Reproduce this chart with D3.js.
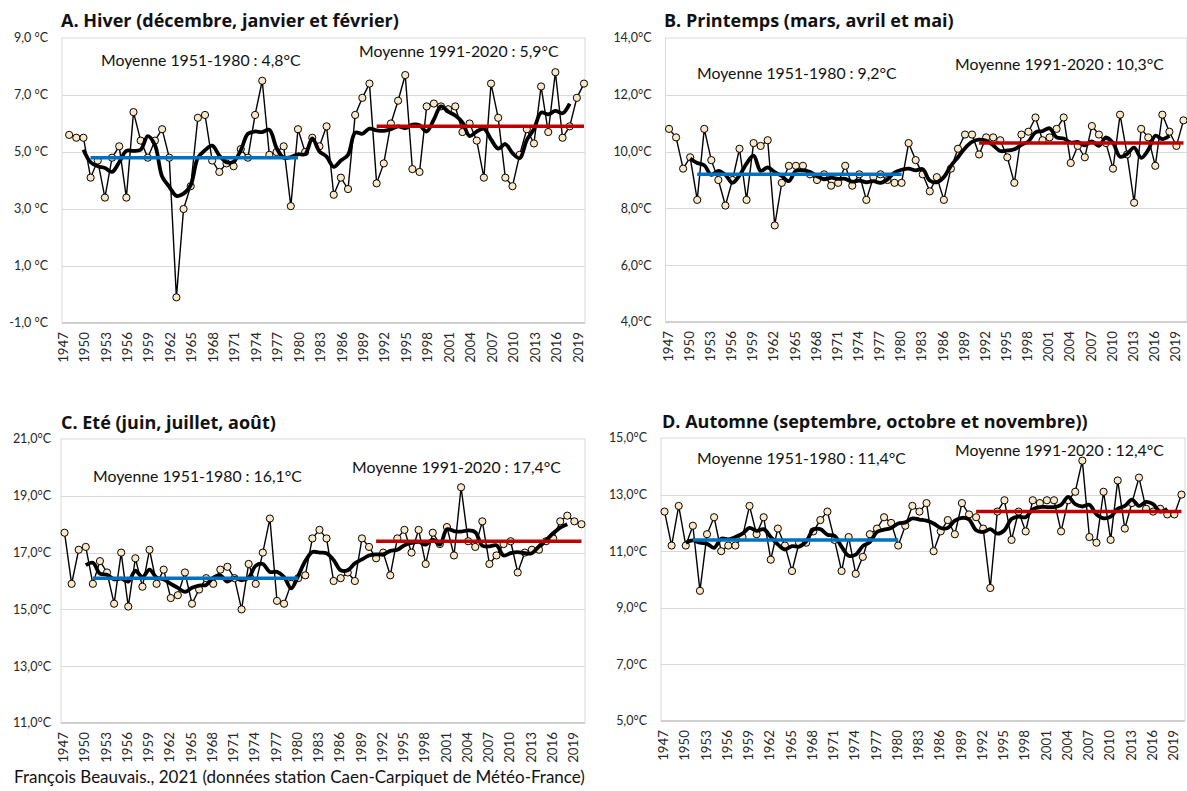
<!DOCTYPE html>
<html>
<head>
<meta charset="utf-8">
<script src="https://cdn.jsdelivr.net/npm/d3@7"></script>
<style>
  body { margin: 0; background: #ffffff; }
  svg { display: block; font-family: Lato, "Open Sans", sans-serif; }
</style>
</head>
<body>
<svg id="chart" width="1187" height="791"></svg>
<script>
// Category axis: years 1947–2020, labelled every third year
const years = d3.range(1947, 2021);
const tickYears = [1947, 1950, 1953, 1956, 1959, 1962, 1965, 1968, 1971, 1974, 1977, 1980,
  1983, 1986, 1989, 1992, 1995, 1998, 2001, 2004, 2007, 2010, 2013, 2016, 2019];

// Seasonal mean temperatures (°C), Caen-Carpiquet
// Winter series starts with the winter 1947-48 (labelled 1948)
const hiverYears = d3.range(1948, 2021);
const hiver = [
  5.6, 5.5, 5.5, 4.1, 4.7, 3.4, 4.8, 5.2, 3.4, 6.4,
  5.4, 4.8, 5.4, 5.8, 4.8, -0.1, 3.0, 3.8, 6.2, 6.3,
  4.7, 4.3, 4.6, 4.5, 5.1, 4.8, 6.3, 7.5, 4.9, 5.0,
  5.2, 3.1, 5.8, 5.0, 5.5, 5.2, 5.9, 3.5, 4.1, 3.7,
  6.3, 6.9, 7.4, 3.9, 4.6, 6.0, 6.8, 7.7, 4.4, 4.3,
  6.6, 6.7, 6.6, 6.5, 6.6, 5.7, 6.0, 5.4, 4.1, 7.4,
  6.2, 4.1, 3.8, 4.9, 5.8, 5.3, 7.3, 5.7, 7.8, 5.5,
  5.9, 6.9, 7.4];

const printemps = [
  10.8, 10.5, 9.4, 9.8, 8.3, 10.8, 9.7, 9.0, 8.1, 9.0,
  10.1, 8.3, 10.3, 10.2, 10.4, 7.4, 8.9, 9.5, 9.5, 9.5,
  9.2, 9.0, 9.2, 8.8, 8.9, 9.5, 8.8, 9.2, 8.3, 9.1,
  9.2, 9.0, 8.9, 8.9, 10.3, 9.7, 9.2, 8.6, 9.1, 8.3,
  9.4, 10.1, 10.6, 10.6, 9.9, 10.5, 10.5, 10.4, 9.8, 8.9,
  10.6, 10.7, 11.2, 10.4, 10.5, 10.8, 11.2, 9.6, 10.2, 9.8,
  10.9, 10.6, 10.3, 9.4, 11.3, 9.9, 8.2, 10.8, 10.5, 9.5,
  11.3, 10.7, 10.2, 11.1];

const ete = [
  17.7, 15.9, 17.1, 17.2, 15.9, 16.7, 16.3, 15.2, 17.0, 15.1,
  16.8, 15.8, 17.1, 15.9, 16.4, 15.4, 15.5, 16.3, 15.2, 15.7,
  16.1, 15.9, 16.4, 16.5, 16.1, 15.0, 16.6, 15.9, 17.0, 18.2,
  15.3, 15.2, 15.9, 16.1, 16.2, 17.5, 17.8, 17.5, 16.0, 16.1,
  16.3, 16.0, 17.5, 17.2, 16.8, 17.0, 16.2, 17.5, 17.8, 17.0,
  17.8, 16.6, 17.7, 17.3, 17.9, 16.9, 19.3, 17.4, 17.2, 18.1,
  16.6, 16.9, 17.3, 17.4, 16.3, 17.0, 17.1, 17.1, 17.4, 17.5,
  18.1, 18.3, 18.1, 18.0];

const automne = [
  12.4, 11.2, 12.6, 11.2, 11.9, 9.6, 11.6, 12.2, 11.0, 11.2,
  11.2, 11.5, 12.6, 11.6, 12.2, 10.7, 11.8, 11.2, 10.3, 11.3,
  11.3, 11.7, 12.1, 12.4, 11.4, 10.3, 11.5, 10.2, 10.8, 11.6,
  11.8, 12.2, 12.0, 11.2, 11.9, 12.6, 12.4, 12.7, 11.0, 11.7,
  12.1, 11.6, 12.7, 12.3, 12.2, 11.8, 9.7, 12.4, 12.8, 11.4,
  12.4, 11.7, 12.8, 12.7, 12.8, 12.8, 11.7, 12.8, 13.1, 14.2,
  11.5, 11.3, 13.1, 11.4, 13.5, 11.8, 12.7, 13.6, 12.5, 12.4,
  12.5, 12.3, 12.3, 13.0];

// Reference-period means (°C) for each season
const periodOld = [1951, 1980];
const periodNew = [1991, 2020];
const meanOld = { hiver: 4.8, printemps: 9.2, ete: 16.1, automne: 11.4 };
const meanNew = { hiver: 5.9, printemps: 10.3, ete: 17.4, automne: 12.4 };

// 5-year centred moving average shown from 1950 to 2018
const smoothSpan = [1950, 2018];

const svg = d3.select("#chart");

function comma(v) { return v.toFixed(1).replace(".", ","); }

function movingAverage(yrs, vals) {
  return d3.range(smoothSpan[0], smoothSpan[1] + 1).map(y => {
    const i = yrs.indexOf(y);
    return { year: y, v: d3.mean(vals.slice(i - 2, i + 3)) };
  });
}

function drawPanel(p) {
  const g = svg.append("g");
  const x = d3.scalePoint().domain(years).range([p.left, p.right]).padding(p.pad);
  const y = d3.scaleLinear().domain(p.yDomain).range([p.bottom, p.top]);
  const yTicks = d3.range(p.yDomain[0], p.yDomain[1] + 0.001, 2);
  const extra = p.pad === 0 ? 1 : 0;

  // plot area frame and horizontal grid
  g.append("rect")
    .attr("x", p.left).attr("y", p.top)
    .attr("width", p.right - p.left + extra).attr("height", p.bottom - p.top)
    .attr("fill", "none").attr("stroke", "#d9d9d9").attr("stroke-width", 1);
  g.selectAll(".grid").data(yTicks.slice(1, -1)).join("line")
    .attr("x1", p.left).attr("x2", p.right + extra)
    .attr("y1", d => Math.round(y(d)) + 0.5).attr("y2", d => Math.round(y(d)) + 0.5)
    .attr("stroke", "#d9d9d9").attr("stroke-width", 1);
  g.append("line")
    .attr("x1", p.left).attr("x2", p.right + extra)
    .attr("y1", p.bottom).attr("y2", p.bottom)
    .attr("stroke", "#d0d0d0").attr("stroke-width", 2);

  // y axis labels
  g.selectAll(".ylab").data(yTicks).join("text")
    .attr("x", p.left - p.yGap).attr("y", d => y(d)).attr("dy", "0.35em")
    .attr("text-anchor", "end").attr("font-size", 12.5).attr("fill", "#262626")
    .text(d => comma(d) + p.unit);

  // x axis labels (rotated)
  g.selectAll(".xlab").data(tickYears).join("text")
    .attr("transform", d => `translate(${x(d) + p.xShift},${p.bottom + 9}) rotate(-90)`)
    .attr("dy", "0.35em").attr("text-anchor", "end")
    .attr("font-size", 13.3).attr("fill", "#262626")
    .text(d => d);

  // title
  g.append("text").attr("x", p.titleX).attr("y", p.titleY)
    .attr("font-family", "'Open Sans', Lato, sans-serif")
    .attr("font-size", 18).attr("font-weight", "bold").attr("fill", "#111")
    .text(p.title);

  const pts = p.years.map((yr, i) => ({ year: yr, v: p.values[i] }));

  // yearly series
  g.append("path").datum(pts)
    .attr("fill", "none").attr("stroke", "#000").attr("stroke-width", 1.4)
    .attr("d", d3.line().x(d => x(d.year)).y(d => y(d.v)));
  g.selectAll(".pt").data(pts).join("circle")
    .attr("cx", d => x(d.year)).attr("cy", d => y(d.v)).attr("r", 3.6)
    .attr("fill", "#fbe9c6").attr("stroke", "#000").attr("stroke-width", 1);

  // smoothed curve
  g.append("path").datum(movingAverage(p.years, p.values))
    .attr("fill", "none").attr("stroke", "#000").attr("stroke-width", 3.8)
    .attr("stroke-linejoin", "round")
    .attr("d", d3.line().curve(d3.curveCatmullRom.alpha(0.5)).x(d => x(d.year)).y(d => y(d.v)));

  // period means
  [[periodOld, p.mOld, "#0070c0"], [periodNew, p.mNew, "#c00000"]].forEach(([per, m, col]) => {
    g.append("line")
      .attr("x1", x(per[0])).attr("x2", x(per[1]))
      .attr("y1", y(m)).attr("y2", y(m))
      .attr("stroke", col).attr("stroke-width", 3.5);
  });

  g.append("text").attr("x", p.lblOld[0]).attr("y", p.lblOld[1])
    .attr("font-size", 15.8).attr("fill", "#111")
    .text(`Moyenne ${periodOld[0]}-${periodOld[1]} : ${comma(p.mOld)}°C`);
  g.append("text").attr("x", p.lblNew[0]).attr("y", p.lblNew[1])
    .attr("font-size", 15.8).attr("fill", "#111")
    .text(`Moyenne ${periodNew[0]}-${periodNew[1]} : ${comma(p.mNew)}°C`);
}

drawPanel({
  title: "A. Hiver (décembre, janvier et février)", titleX: 61, titleY: 26.5,
  left: 62, right: 584, top: 38, bottom: 323, pad: 0, xShift: 1,
  yDomain: [-1, 9], unit: " °C", yGap: 14,
  years: hiverYears, values: hiver, mOld: meanOld.hiver, mNew: meanNew.hiver,
  lblOld: [101, 65.5], lblNew: [359, 57]
});
drawPanel({
  title: "B. Printemps (mars, avril et mai)", titleX: 664, titleY: 26.5,
  left: 665.5, right: 1187, top: 38, bottom: 322, pad: 0.5, xShift: -1,
  yDomain: [4, 14], unit: "°C", yGap: 14,
  years: years, values: printemps, mOld: meanOld.printemps, mNew: meanNew.printemps,
  lblOld: [697, 78.5], lblNew: [955, 70]
});
drawPanel({
  title: "C. Eté (juin, juillet, août)", titleX: 61, titleY: 428.5,
  left: 61, right: 585, top: 439, bottom: 723, pad: 0.5, xShift: -1,
  yDomain: [11, 21], unit: "°C", yGap: 10,
  years: years, values: ete, mOld: meanOld.ete, mNew: meanNew.ete,
  lblOld: [93, 481.5], lblNew: [352, 473]
});
drawPanel({
  title: "D. Automne (septembre, octobre et novembre))", titleX: 662, titleY: 427.5,
  left: 661, right: 1185, top: 438, bottom: 721, pad: 0.5, xShift: -1,
  yDomain: [5, 15], unit: "°C", yGap: 14,
  years: years, values: automne, mOld: meanOld.automne, mNew: meanNew.automne,
  lblOld: [697, 464], lblNew: [955, 455.5]
});

svg.append("text").attr("x", 14).attr("y", 783)
  .attr("font-size", 17).attr("fill", "#111")
  .text("François Beauvais., 2021 (données station Caen-Carpiquet de Météo-France)");
</script>
</body>
</html>
